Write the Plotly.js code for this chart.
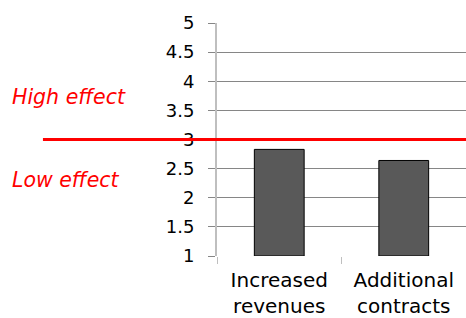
<!DOCTYPE html>
<html>
<head>
<meta charset="utf-8">
<script src="https://cdn.plot.ly/plotly-3.0.1.min.js"></script>
<style>html,body{margin:0;padding:0;background:#fff;}#chart{width:466px;height:318px;}</style>
</head>
<body>
<div id="chart"></div>
<script>
const categories = ["Increased<br>revenues", "Additional<br>contracts"];
const values = [2.83, 2.64];
const yTicks = [1, 1.5, 2, 2.5, 3, 3.5, 4, 4.5, 5];
const yTickLabels = ["1", "1.5", "2", "2.5", "3", "3.5", "4", "4.5", "5"];
const axisMin = 1;
const thresholdValue = 3;
const highLabel = "High effect";
const lowLabel = "Low effect";
const highLabelY = 3.73;
const lowLabelY = 2.31;

const font = "DejaVu Sans, Verdana, sans-serif";

const trace = {
  type: "bar",
  x: categories,
  y: values.map(v => v - axisMin),
  base: axisMin,
  marker: {color: "#595959", line: {color: "#000000", width: 1}},
  hoverinfo: "skip"
};

const layout = {
  width: 466, height: 318,
  margin: {l: 217, r: 0, t: 23, b: 62},
  paper_bgcolor: "#ffffff",
  plot_bgcolor: "#ffffff",
  showlegend: false,
  bargap: 0.6,
  font: {family: font, size: 18, color: "#000000"},
  xaxis: {
    type: "category",
    showgrid: false,
    zeroline: false,
    showline: false,
    ticks: "outside",
    tickson: "boundaries",
    ticklen: 7,
    tickcolor: "#bfbfbf",
    tickwidth: 1,
    ticklabelstandoff: 10,
    tickfont: {family: font, size: 20, color: "#000000"},
    fixedrange: true
  },
  yaxis: {
    range: [1, 5],
    tickmode: "array",
    tickvals: yTicks,
    ticktext: yTickLabels,
    showgrid: true,
    gridcolor: "#868686",
    gridwidth: 1,
    zeroline: false,
    showline: true,
    linecolor: "#bfbfbf",
    linewidth: 2,
    ticks: "outside",
    ticklen: 7,
    tickcolor: "#868686",
    ticklabelstandoff: 10,
    tickfont: {family: font, size: 18, color: "#000000"},
    fixedrange: true
  },
  shapes: [{
    type: "line",
    xref: "paper", yref: "y",
    x0: -0.699, x1: 1,
    y0: thresholdValue, y1: thresholdValue,
    line: {color: "#ff0000", width: 3}
  }],
  annotations: [
    {text: highLabel, xref: "paper", yref: "y", x: -0.831, y: highLabelY, xanchor: "left", yanchor: "middle", showarrow: false,
     font: {family: font, size: 20.5, color: "#ff0000", style: "italic"}},
    {text: lowLabel, xref: "paper", yref: "y", x: -0.831, y: lowLabelY, xanchor: "left", yanchor: "middle", showarrow: false,
     font: {family: font, size: 20.5, color: "#ff0000", style: "italic"}}
  ]
};

Plotly.newPlot("chart", [trace], layout, {staticPlot: true, displayModeBar: false});
</script>
</body>
</html>
